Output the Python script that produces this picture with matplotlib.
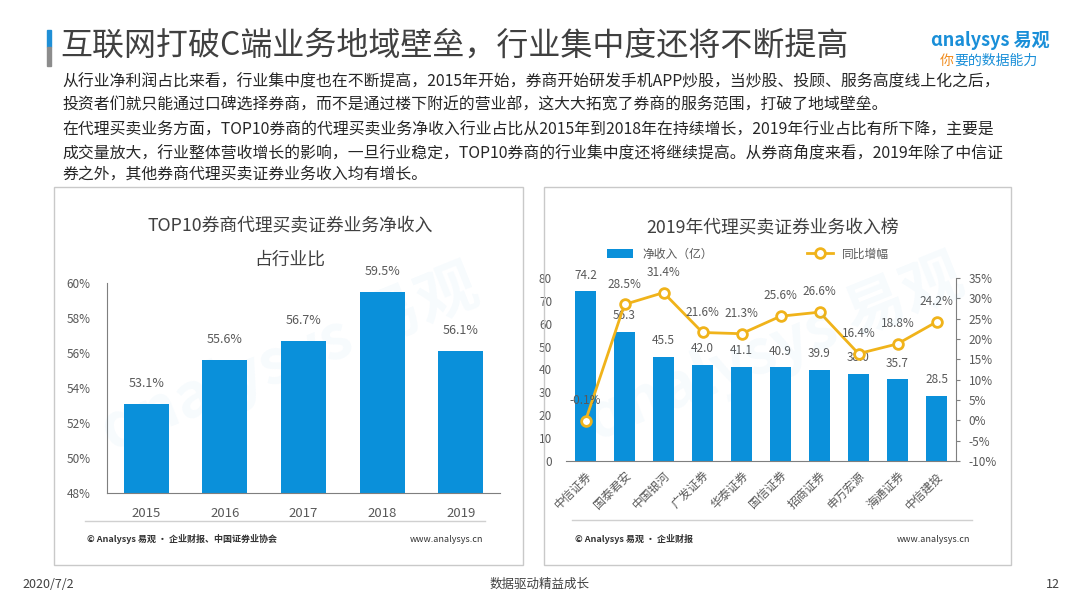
import matplotlib
matplotlib.use("Agg")
import matplotlib.pyplot as plt
from matplotlib.patches import Rectangle
from matplotlib.lines import Line2D

plt.rcParams['font.family'] = ['Noto Sans CJK SC', 'DejaVu Sans']

# data
years = ['2015', '2016', '2017', '2018', '2019']
share = [53.1, 55.6, 56.7, 59.5, 56.1]

brokers = ['中信证券', '国泰君安', '中国银河', '广发证券', '华泰证券',
           '国信证券', '招商证券', '申万宏源', '海通证券', '中信建投']
income = [74.2, 56.3, 45.5, 42.0, 41.1, 40.9, 39.9, 38.0, 35.7, 28.5]
growth = [-0.1, 28.5, 31.4, 21.6, 21.3, 25.6, 26.6, 16.4, 18.8, 24.2]

title = '互联网打破C端业务地域壁垒，行业集中度还将不断提高'
body = ['从行业净利润占比来看，行业集中度也在不断提高，2015年开始，券商开始研发手机APP炒股，当炒股、投顾、服务高度线上化之后，',
        '投资者们就只能通过口碑选择券商，而不是通过楼下附近的营业部，这大大拓宽了券商的服务范围，打破了地域壁垒。',
        '在代理买卖业务方面，TOP10券商的代理买卖业务净收入行业占比从2015年到2018年在持续增长，2019年行业占比有所下降，主要是',
        '成交量放大，行业整体营收增长的影响，一旦行业稳定，TOP10券商的行业集中度还将继续提高。从券商角度来看，2019年除了中信证',
        '券之外，其他券商代理买卖证券业务收入均有增长。']

BLUE = '#0a90da'
GOLD = '#f0b31a'
GRAY = '#595959'
W, H = 1080, 608

fig = plt.figure(figsize=(10.8, 6.08), dpi=100)
fig.patch.set_facecolor('white')

def fx(px):
    return px / W

def fy(py):
    return 1 - py / H

# header
fig.patches.append(Rectangle((fx(47), fy(47)), fx(4), 17 / H, transform=fig.transFigure,
                             color='#1f8fd6', zorder=2))
fig.patches.append(Rectangle((fx(47), fy(66)), fx(4), 19 / H, transform=fig.transFigure,
                             color='#8c8c8c', zorder=2))
fig.text(fx(60), fy(46), title, fontsize=23, color='#404040', va='center', ha='left')
fig.text(fx(1050), fy(40), 'ɑnalysys 易观', fontsize=13, color='#1a8fd8',
         ha='right', va='center', fontweight='bold')
fig.text(fx(940), fy(61), '你', fontsize=10, color='#f08c1e', ha='left', va='center',
         style='italic')
fig.text(fx(954), fy(61), '要的数据能力', fontsize=10, color='#1a8fd8',
         ha='left', va='center', style='italic')

line_y = [82, 105, 130, 153, 175]
for yy, s in zip(line_y, body):
    fig.text(fx(62), fy(yy), s, fontsize=11.4, color='#262626', va='center', ha='left')

# panels
for x0, x1 in [(54, 523), (544, 1011)]:
    fig.patches.append(Rectangle((fx(x0), fy(565)), fx(x1 - x0), (565 - 187) / H,
                                 transform=fig.transFigure, fill=False,
                                 edgecolor='#c9c9c9', linewidth=1.0))

# left chart
ax1 = fig.add_axes([fx(107), fy(493), fx(500 - 107), (493 - 283) / H])
x1 = range(len(years))
ax1.bar(x1, share, width=0.57, color=BLUE, zorder=2)
ax1.set_ylim(48, 60)
ax1.set_xlim(-0.5, 4.5)
ax1.set_yticks(range(48, 61, 2))
ax1.set_yticklabels([f'{v}%' for v in range(48, 61, 2)])
ax1.set_xticks(list(x1))
ax1.set_xticklabels(years)
ax1.tick_params(length=0, labelsize=8.5, labelcolor=GRAY)
ax1.tick_params(axis='x', pad=10, labelsize=9.5)
ax1.tick_params(axis='y', pad=12)
for s in ['top', 'right']:
    ax1.spines[s].set_visible(False)
for s in ['left', 'bottom']:
    ax1.spines[s].set_color('#7f7f7f')
for i, v in enumerate(share):
    ax1.annotate(f'{v}%', (i, v), xytext=(0, 10), textcoords='offset points',
                 ha='center', va='bottom', fontsize=9, color=GRAY)

fig.text(fx(290), fy(226), 'TOP10券商代理买卖证券业务净收入', fontsize=12.8,
         color='#404040', ha='center', va='center')
fig.text(fx(290), fy(260), '占行业比', fontsize=12.8, color='#404040',
         ha='center', va='center')
fig.lines.append(Line2D([fx(85), fx(485)], [fy(521), fy(521)], transform=fig.transFigure,
                        color='#d0d0d0', linewidth=1))
fig.text(fx(87), fy(539), '© Analysys 易观 · 企业财报、中国证券业协会', fontsize=6.5,
         color='#333333', ha='left', va='center', fontweight='bold')
fig.text(fx(483), fy(539), 'www.analysys.cn', fontsize=6.5, color='#333333',
         ha='right', va='center')

# right chart
ax2 = fig.add_axes([fx(566), fy(461), fx(956 - 566), (461 - 278) / H])
x2 = range(len(brokers))
bars = ax2.bar(x2, income, width=0.56, color=BLUE, zorder=2, label='净收入（亿）')
ax2.set_ylim(0, 80)
ax2.set_xlim(-0.5, 9.5)
ax2.set_yticks(range(0, 81, 10))
ax2.set_xticks(list(x2))
ax2.set_xticklabels(brokers, rotation=45, ha='right', rotation_mode='anchor')
ax2.tick_params(length=0, labelsize=8.5, labelcolor=GRAY)
ax2.tick_params(axis='y', pad=10)
ax2.tick_params(axis='x', pad=6)
for s in ['top', 'right', 'left']:
    ax2.spines[s].set_visible(False)
ax2.spines['bottom'].set_color('#7f7f7f')
for i, v in enumerate(income):
    ax2.annotate(f'{v:.1f}', (i, v), xytext=(0, 7), textcoords='offset points',
                 ha='center', va='bottom', fontsize=8.5, color=GRAY, zorder=5)

ax3 = ax2.twinx()
ln, = ax3.plot(list(x2), growth, color=GOLD, linewidth=2, marker='o', markersize=7,
               markerfacecolor='white', markeredgecolor=GOLD, markeredgewidth=2,
               zorder=4, label='同比增幅')
ax3.set_ylim(-10, 35)
ax3.set_yticks(range(-10, 36, 5))
ax3.set_yticklabels([f'{v}%' for v in range(-10, 36, 5)])
ax3.tick_params(axis='y', length=3, color='#7f7f7f', labelsize=8.5, labelcolor=GRAY, pad=6)
for s in ['top', 'left', 'bottom']:
    ax3.spines[s].set_visible(False)
ax3.spines['right'].set_color('#7f7f7f')
for i, v in enumerate(growth):
    ax3.annotate(f'{v}%', (i, v), xytext=(0, 10), textcoords='offset points',
                 ha='center', va='bottom', fontsize=8.5, color=GRAY, zorder=5)

fig.text(fx(773), fy(228), '2019年代理买卖证券业务收入榜', fontsize=12.8,
         color='#404040', ha='center', va='center')
fig.legend([bars, ln], ['净收入（亿）', '同比增幅'], loc='center',
           bbox_to_anchor=(fx(748), fy(254)), ncol=2, frameon=False, fontsize=8.5,
           columnspacing=8, handlelength=2.2, labelcolor=GRAY)
fig.lines.append(Line2D([fx(572), fx(972)], [fy(520), fy(520)], transform=fig.transFigure,
                        color='#d0d0d0', linewidth=1))
fig.text(fx(575), fy(539), '© Analysys 易观 · 企业财报', fontsize=6.5,
         color='#333333', ha='left', va='center', fontweight='bold')
fig.text(fx(970), fy(539), 'www.analysys.cn', fontsize=6.5, color='#333333',
         ha='right', va='center')

# faint watermarks
for cx, cy in [(290, 360), (775, 350)]:
    fig.text(fx(cx), fy(cy), 'ɑnalysys 易观', fontsize=44, color='#0a90da', alpha=0.035,
             ha='center', va='center', rotation=22, fontweight='bold', zorder=10)

# footer
fig.text(fx(22), fy(584), '2020/7/2', fontsize=9, color='#404040', ha='left', va='center')
fig.text(fx(540), fy(584), '数据驱动精益成长', fontsize=9, color='#404040',
         ha='center', va='center')
fig.text(fx(1060), fy(584), '12', fontsize=9, color='#404040', ha='right', va='center')

fig.savefig('out.png', dpi=100, facecolor='white')
